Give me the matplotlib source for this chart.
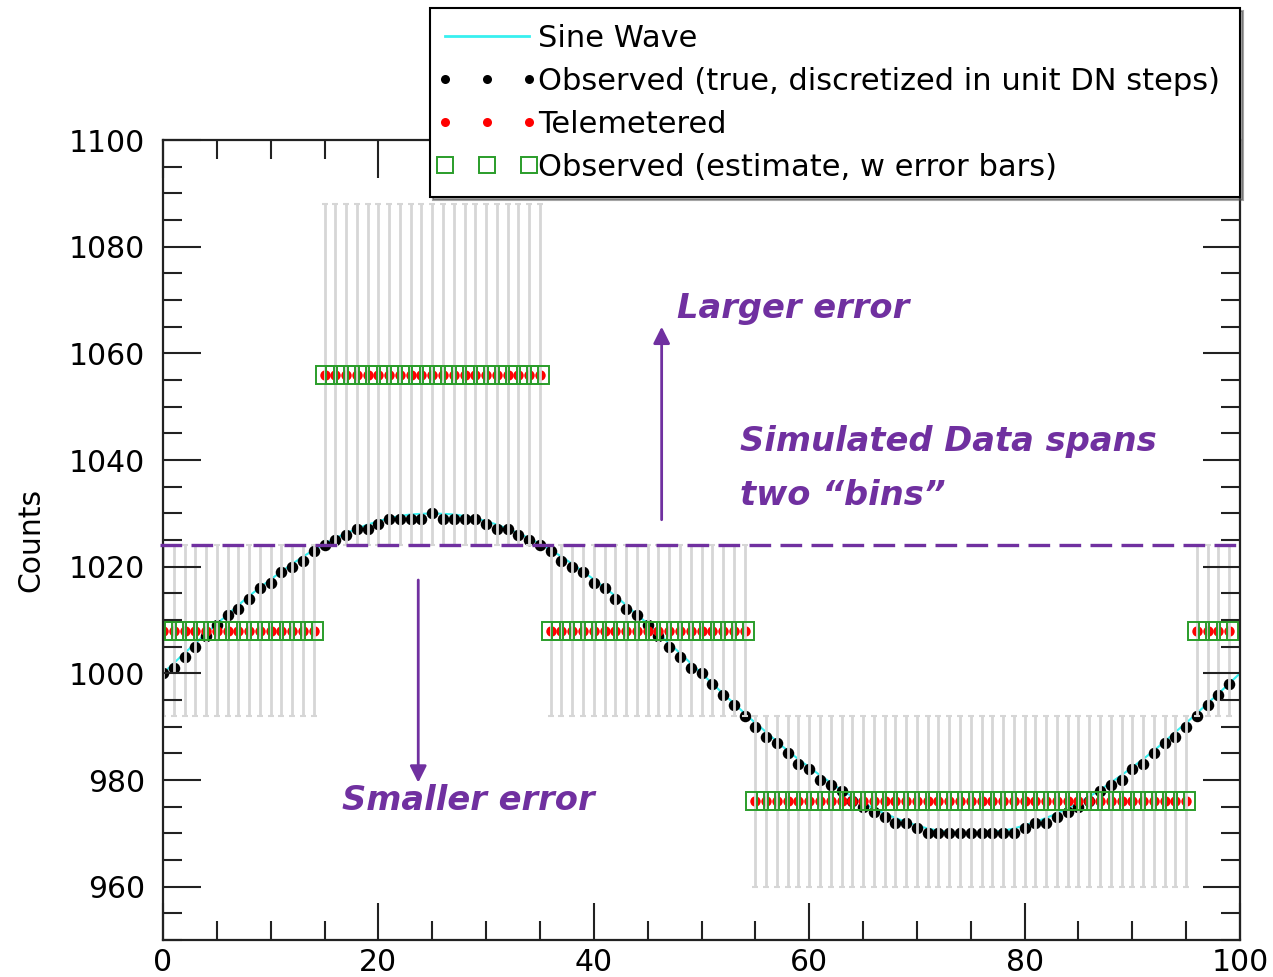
import numpy as np
import matplotlib
matplotlib.use("Agg")
import matplotlib.pyplot as plt
from matplotlib.lines import Line2D
from matplotlib.legend_handler import HandlerLine2D
from matplotlib.ticker import MultipleLocator

plt.rcParams['font.family'] = ['DejaVu Sans']

# ---------------- data ----------------
sine_x = list(range(0, 101))
sine_y = [1000.0, 1001.9, 1003.8, 1005.6, 1007.5, 1009.3, 1011.0, 1012.8, 1014.5, 1016.1,
          1017.6, 1019.1, 1020.5, 1021.9, 1023.1, 1024.3, 1025.3, 1026.3, 1027.1, 1027.9,
          1028.5, 1029.1, 1029.5, 1029.8, 1029.9, 1030.0, 1029.9, 1029.8, 1029.5, 1029.1,
          1028.5, 1027.9, 1027.1, 1026.3, 1025.3, 1024.3, 1023.1, 1021.9, 1020.5, 1019.1,
          1017.6, 1016.1, 1014.5, 1012.8, 1011.0, 1009.3, 1007.5, 1005.6, 1003.8, 1001.9,
          1000.0, 998.1, 996.2, 994.4, 992.5, 990.7, 989.0, 987.2, 985.5, 983.9,
          982.4, 980.9, 979.5, 978.1, 976.9, 975.7, 974.7, 973.7, 972.9, 972.1,
          971.5, 970.9, 970.5, 970.2, 970.1, 970.0, 970.1, 970.2, 970.5, 970.9,
          971.5, 972.1, 972.9, 973.7, 974.7, 975.7, 976.9, 978.1, 979.5, 980.9,
          982.4, 983.9, 985.5, 987.2, 989.0, 990.7, 992.5, 994.4, 996.2, 998.1,
          1000.0]

sample_x = list(range(0, 100))
observed = [1000, 1001, 1003, 1005, 1007, 1009, 1011, 1012, 1014, 1016,
            1017, 1019, 1020, 1021, 1023, 1024, 1025, 1026, 1027, 1027,
            1028, 1029, 1029, 1029, 1029, 1030, 1029, 1029, 1029, 1029,
            1028, 1027, 1027, 1026, 1025, 1024, 1023, 1021, 1020, 1019,
            1017, 1016, 1014, 1012, 1011, 1009, 1007, 1005, 1003, 1001,
            1000, 998, 996, 994, 992, 990, 988, 987, 985, 983,
            982, 980, 979, 978, 976, 975, 974, 973, 972, 972,
            971, 970, 970, 970, 970, 970, 970, 970, 970, 970,
            971, 972, 972, 973, 974, 975, 976, 978, 979, 980,
            982, 983, 985, 987, 988, 990, 992, 994, 996, 998]

telemetered = [1008, 1008, 1008, 1008, 1008, 1008, 1008, 1008, 1008, 1008,
               1008, 1008, 1008, 1008, 1008, 1056, 1056, 1056, 1056, 1056,
               1056, 1056, 1056, 1056, 1056, 1056, 1056, 1056, 1056, 1056,
               1056, 1056, 1056, 1056, 1056, 1056, 1008, 1008, 1008, 1008,
               1008, 1008, 1008, 1008, 1008, 1008, 1008, 1008, 1008, 1008,
               1008, 1008, 1008, 1008, 1008, 976, 976, 976, 976, 976,
               976, 976, 976, 976, 976, 976, 976, 976, 976, 976,
               976, 976, 976, 976, 976, 976, 976, 976, 976, 976,
               976, 976, 976, 976, 976, 976, 976, 976, 976, 976,
               976, 976, 976, 976, 976, 976, 1008, 1008, 1008, 1008]

estimate = telemetered
estimate_err = [16, 16, 16, 16, 16, 16, 16, 16, 16, 16,
                16, 16, 16, 16, 16, 32, 32, 32, 32, 32,
                32, 32, 32, 32, 32, 32, 32, 32, 32, 32,
                32, 32, 32, 32, 32, 32, 16, 16, 16, 16,
                16, 16, 16, 16, 16, 16, 16, 16, 16, 16,
                16, 16, 16, 16, 16, 16, 16, 16, 16, 16,
                16, 16, 16, 16, 16, 16, 16, 16, 16, 16,
                16, 16, 16, 16, 16, 16, 16, 16, 16, 16,
                16, 16, 16, 16, 16, 16, 16, 16, 16, 16,
                16, 16, 16, 16, 16, 16, 16, 16, 16, 16]

bin_edge = 1024
legend_labels = ["Sine Wave",
                 "Observed (true, discretized in unit DN steps)",
                 "Telemetered",
                 "Observed (estimate, w error bars)"]

# ---------------- styles ----------------
purple = '#7030A0'
cyan = '#38f0f0'
green = '#2a9d2a'
ann_font = dict(family=['DejaVu Sans'], weight='bold', style='italic',
                color=purple, fontsize=24.3)

fig = plt.figure(figsize=(12.73, 9.77), dpi=100)
ax = fig.add_axes([163 / 1273, 37 / 977, 1077 / 1273, 800 / 977])

ax.plot(sine_x, sine_y, color=cyan, lw=1.5, zorder=1)
ax.plot(sample_x, observed, 'o', color='black', ms=8.3, mec='none', zorder=2)
ax.plot(sample_x, telemetered, 'o', color='red', ms=7.5, mec='none', zorder=3)
ax.errorbar(sample_x, estimate, yerr=estimate_err, fmt='none', ecolor='#d6d6d6',
            elinewidth=2.0, capsize=2.5, capthick=1.5, zorder=4)
ax.plot(sample_x, estimate, 's', mfc='none', mec=green, ms=13, mew=1.4, zorder=5)

ax.set_xlim(0, 100)
ax.set_ylim(950, 1100)
ax.xaxis.set_major_locator(MultipleLocator(20))
ax.xaxis.set_minor_locator(MultipleLocator(5))
ax.yaxis.set_major_locator(MultipleLocator(20))
ax.yaxis.set_minor_locator(MultipleLocator(5))
ax.tick_params(which='both', direction='in', top=True, right=True, width=1.5,
               color='#222222', labelsize=21.5)
ax.tick_params(which='major', length=27)
ax.tick_params(which='minor', length=14)
ax.tick_params(axis='y', pad=13)
ax.tick_params(axis='x', pad=6)
ax.xaxis.set_zorder(10)
ax.yaxis.set_zorder(10)
for s in ax.spines.values():
    s.set_linewidth(1.6)
    s.set_color('#222222')
    s.set_zorder(10)

ax.set_ylabel('Counts', fontsize=21.5)
ax.yaxis.set_label_coords(-0.109, 0.5)

# dashed bin boundary
ax.plot([-0.3, 100.4], [bin_edge, bin_edge], color=purple, lw=2.4,
        dashes=(6.5, 2.8), clip_on=False, zorder=11)

# arrows
ax.annotate('', xy=(46.3, 1065.0), xytext=(46.3, 1028.8),
            arrowprops=dict(arrowstyle='-|>', color=purple, lw=2,
                            mutation_scale=25, shrinkA=0, shrinkB=0), zorder=11)
ax.annotate('', xy=(23.7, 979.5), xytext=(23.7, 1017.5),
            arrowprops=dict(arrowstyle='-|>', color=purple, lw=2,
                            mutation_scale=25, shrinkA=0, shrinkB=0), zorder=11)

ax.text(47.7, 1066.6, 'Larger error', va='baseline', ha='left', zorder=11, **ann_font)
ax.text(53.6, 1041.7, 'Simulated Data spans', va='baseline', ha='left', zorder=11, **ann_font)
ax.text(53.6, 1031.6, 'two \u201cbins\u201d', va='baseline', ha='left', zorder=11, **ann_font)
ax.text(16.6, 974.3, 'Smaller error', va='baseline', ha='left', zorder=11, **ann_font)

handles = [
    Line2D([], [], color=cyan, lw=2),
    Line2D([], [], ls='none', marker='o', color='black', ms=6.5, mec='none'),
    Line2D([], [], ls='none', marker='o', color='red', ms=6.5, mec='none'),
    Line2D([], [], ls='none', marker='s', mfc='none', mec=green, ms=12, mew=1.4),
]
leg = fig.legend(handles, legend_labels, loc='lower left',
                 bbox_to_anchor=(430 / 1273, 780 / 977, 810 / 1273, 0.2),
                 mode='expand', numpoints=3,
                 handler_map={Line2D: HandlerLine2D(marker_pad=0)},
                 fontsize=22, frameon=True, fancybox=False, shadow=True,
                 handlelength=2.75, handletextpad=0.3, borderpad=0.5,
                 labelspacing=0.46, borderaxespad=0)
leg.get_frame().set_edgecolor('black')
leg.get_frame().set_linewidth(1.5)

fig.savefig('out.png', dpi=100)
